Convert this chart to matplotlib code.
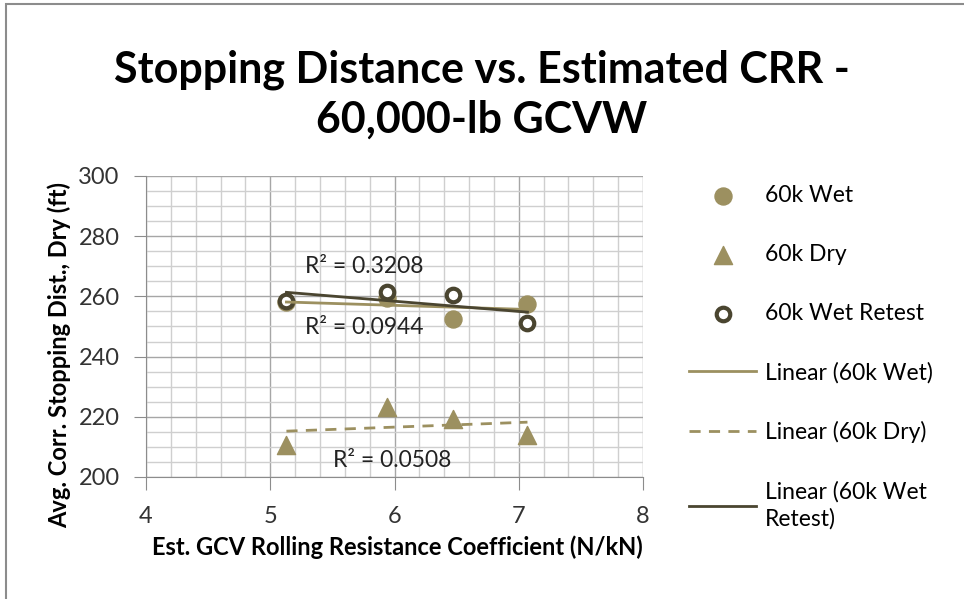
import numpy as np
import matplotlib
matplotlib.use('Agg')
import matplotlib.pyplot as plt
from matplotlib.ticker import MultipleLocator
from matplotlib.patches import Rectangle

plt.rcParams['font.family'] = ['Lato', 'DejaVu Sans']

# ---------------- DATA ----------------
crr = [5.13, 5.94, 6.47, 7.07]
wet = [258.0, 259.4, 252.5, 257.4]
dry = [210.6, 223.4, 219.2, 214.0]
wet_retest = [258.6, 261.4, 260.4, 251.1]

r2_labels = ["R\u00b2 = 0.3208", "R\u00b2 = 0.0944", "R\u00b2 = 0.0508"]

olive = "#9C9060"
dark = "#4A4530"

fig = plt.figure(figsize=(9.64, 5.99), dpi=100)
ax = fig.add_axes([0.1515, 0.2037, 0.5155, 0.5025])

# outer chart border (top / left visible)
fig.patches.append(Rectangle((0.006, -0.1), 1.2, 1.093, transform=fig.transFigure,
                             fill=False, edgecolor="#8C8C8C", linewidth=1.5))


def trend(x, y):
    m, b = np.polyfit(x, y, 1)
    xs = np.array([min(x), max(x)])
    return xs, m * xs + b


ax.scatter(crr, wet, s=150, color=olive, marker="o", label="60k Wet", zorder=3)
ax.scatter(crr, dry, s=170, color=olive, marker="^", label="60k Dry", zorder=3)
ax.scatter(crr, wet_retest, s=95, facecolor="white", edgecolor=dark,
           linewidth=3, marker="o", label="60k Wet Retest", zorder=4)

tx, ty = trend(crr, wet)
ax.plot(tx, ty, color=olive, lw=2, label="Linear (60k Wet)", zorder=5)
tx, ty = trend(crr, dry)
ax.plot(tx, ty, color=olive, lw=2, ls=(0, (4, 3)), label="Linear (60k Dry)", zorder=5)
tx, ty = trend(crr, wet_retest)
ax.plot(tx, ty, color=dark, lw=2, label="Linear (60k Wet\nRetest)", zorder=5)

ax.text(5.28, 269.9, r2_labels[0], fontsize=16.5, color="#222222", va="center", zorder=6)
ax.text(5.28, 249.5, r2_labels[1], fontsize=16.5, color="#222222", va="center", zorder=6)
ax.text(5.505, 205.6, r2_labels[2], fontsize=16.5, color="#222222", va="center", zorder=6)

ax.set_xlim(4, 8)
ax.set_ylim(200, 300)
ax.xaxis.set_major_locator(MultipleLocator(1))
ax.xaxis.set_minor_locator(MultipleLocator(0.2))
ax.yaxis.set_major_locator(MultipleLocator(20))
ax.yaxis.set_minor_locator(MultipleLocator(5))
ax.grid(which="major", color="#A6A6A6", lw=1)
ax.grid(which="minor", color="#CFCFCF", lw=1)
ax.set_axisbelow(True)
for s in ["top", "right"]:
    ax.spines[s].set_visible(False)
for s in ["left", "bottom"]:
    ax.spines[s].set_color("#8C8C8C")
ax.tick_params(which="major", length=9, color="#8C8C8C", labelsize=17,
               labelcolor="#333333")
ax.tick_params(axis="y", pad=10)
ax.tick_params(axis="x", pad=12)
ax.tick_params(which="minor", length=0)

ax.set_xlabel("Est. GCV Rolling Resistance Coefficient (N/kN)", fontsize=17,
              fontweight="bold")
ax.xaxis.set_label_coords(0.505, -0.195)
ax.set_ylabel("Avg. Corr. Stopping Dist., Dry (ft)", fontsize=17,
              fontweight="bold")
ax.yaxis.set_label_coords(-0.15, 0.405)

fig.text(0.5, 0.863, "Stopping Distance vs. Estimated CRR -", ha="center",
         va="baseline", fontsize=31, fontweight="bold")
fig.text(0.5, 0.778, "60,000-lb GCVW", ha="center", va="baseline",
         fontsize=31, fontweight="bold")

leg = ax.legend(loc="upper left", bbox_to_anchor=(1.075, 1.0), frameon=False,
                fontsize=16.5, handlelength=2.9, labelspacing=1.65,
                handletextpad=0.4, borderaxespad=0)
leg.get_texts()[-1].set_linespacing(1.35)

fig.savefig("out.png", dpi=100)
